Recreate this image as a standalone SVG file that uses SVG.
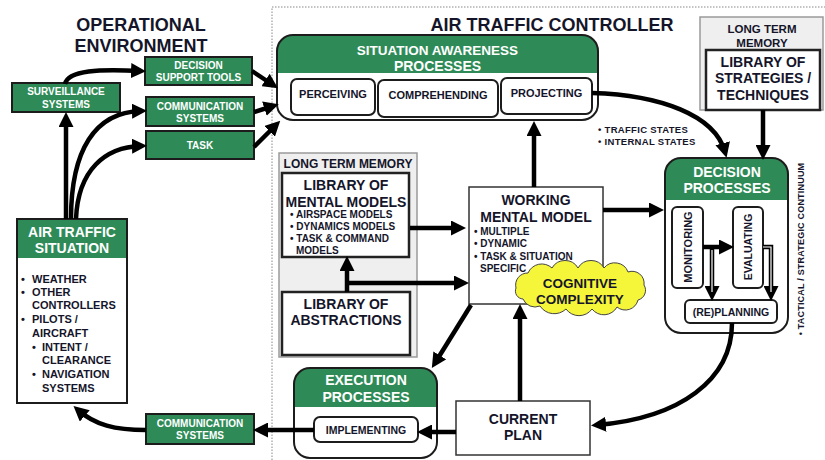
<svg xmlns="http://www.w3.org/2000/svg" width="825" height="460" viewBox="0 0 825 460">
<style>
text{font-family:"Liberation Sans",Arial,sans-serif;font-weight:bold;fill:#15152a}
.w{fill:#fff}
.m{text-anchor:middle}
.gbox{fill:#2e8b57;stroke:#1c1c1c;stroke-width:2}
.hdr{fill:#2e8b57}
.rbox{fill:#fff;stroke:#1c1c1c;stroke-width:2}
.sub{fill:#fff;stroke:#1c1c1c;stroke-width:2}
.ltm{fill:#efefef;stroke:#9a9a9a;stroke-width:1.5}
.lib{fill:#fff;stroke:#222;stroke-width:2.5}
.plain{fill:#fff;stroke:#333;stroke-width:1.5}
.c{fill:none;stroke:#000;stroke-width:4.5;marker-end:url(#ah)}
.inner{fill:none;stroke:#fff;stroke-width:1.2}
</style>
<defs>
<marker id="ah" markerUnits="userSpaceOnUse" markerWidth="15" markerHeight="15" refX="9" refY="7.5" orient="auto">
<path d="M0,0 L15,7.5 L0,15 z" fill="#000"/>
</marker>
</defs>
<rect width="825" height="460" fill="#fff"/>
<path d="M272,460 L272,7 L825,7" fill="none" stroke="#888" stroke-width="1" stroke-dasharray="1.5,1.5"/>

<g id="title-operational">
<text class="m" x="141" y="31" font-size="18">OPERATIONAL</text>
<text class="m" x="141" y="52" font-size="18">ENVIRONMENT</text>
</g>
<g id="title-atc">
<text class="m" x="552" y="31" font-size="18">AIR TRAFFIC CONTROLLER</text>
</g>

<g id="surveillance">
<rect class="gbox" x="12" y="83" width="108" height="29"/>
<text class="m w" x="66" y="95" font-size="10">SURVEILLANCE</text>
<text class="m w" x="66" y="108" font-size="10">SYSTEMS</text>
</g>
<g id="decision-support">
<rect class="gbox" x="145" y="57" width="107" height="28"/>
<text class="m w" x="198.5" y="69" font-size="10">DECISION</text>
<text class="m w" x="198.5" y="81" font-size="10">SUPPORT TOOLS</text>
</g>
<g id="communication-top">
<rect class="gbox" x="146" y="97" width="108" height="29"/>
<text class="m w" x="200" y="110" font-size="10">COMMUNICATION</text>
<text class="m w" x="200" y="122" font-size="10">SYSTEMS</text>
</g>
<g id="task">
<rect class="gbox" x="146" y="131" width="108" height="28"/>
<text class="m w" x="200" y="149" font-size="10">TASK</text>
</g>
<g id="communication-bottom">
<rect class="gbox" x="146" y="414" width="108" height="30"/>
<text class="m w" x="200" y="427" font-size="10">COMMUNICATION</text>
<text class="m w" x="200" y="439" font-size="10">SYSTEMS</text>
</g>

<g id="air-traffic-situation">
<rect x="17" y="219" width="110" height="184" fill="#fff" stroke="#1c1c1c" stroke-width="2"/>
<rect class="hdr" x="18" y="220" width="108" height="38"/>
<rect x="17" y="219" width="110" height="184" fill="none" stroke="#1c1c1c" stroke-width="2"/>
<text class="m w" x="72" y="237" font-size="14">AIR TRAFFIC</text>
<text class="m w" x="72" y="253" font-size="14">SITUATION</text>
<g font-size="11">
<text x="21" y="283" font-size="11">•</text><text x="32" y="283" font-size="11">WEATHER</text>
<text x="21" y="296" font-size="11">•</text><text x="32" y="296" font-size="11">OTHER</text>
<text x="32" y="309" font-size="11">CONTROLLERS</text>
<text x="21" y="323" font-size="11">•</text><text x="32" y="323" font-size="11">PILOTS /</text>
<text x="32" y="337" font-size="11">AIRCRAFT</text>
<text x="32" y="351" font-size="11">•</text><text x="42" y="351" font-size="11">INTENT /</text>
<text x="42" y="364" font-size="11">CLEARANCE</text>
<text x="32" y="378" font-size="11">•</text><text x="42" y="378" font-size="11">NAVIGATION</text>
<text x="42" y="392" font-size="11">SYSTEMS</text>
</g>
</g>

<g id="situation-awareness">
<rect x="277" y="35" width="321" height="85" rx="16" fill="#fff"/>
<path class="hdr" d="M277,73 L277,51 A16,16 0 0 1 293,35 L582,35 A16,16 0 0 1 598,51 L598,73 Z"/>
<rect x="277" y="35" width="321" height="85" rx="16" fill="none" stroke="#1c1c1c" stroke-width="2"/>
<text class="m w" x="437.5" y="55" font-size="13.5">SITUATION AWARENESS</text>
<text class="m w" x="437.5" y="71" font-size="14">PROCESSES</text>
</g>
<g id="perceiving">
<rect class="sub" x="291" y="79" width="84" height="36" rx="6"/>
<text class="m" x="333" y="98" font-size="11">PERCEIVING</text>
</g>
<g id="comprehending">
<rect class="sub" x="378" y="80" width="120" height="37" rx="6"/>
<text class="m" x="438" y="99" font-size="11">COMPREHENDING</text>
</g>
<g id="projecting">
<rect class="sub" x="501" y="78" width="91" height="36" rx="6"/>
<text class="m" x="546.5" y="97" font-size="11">PROJECTING</text>
</g>

<g id="long-term-memory-left">
<rect class="ltm" x="279" y="153" width="138" height="204"/>
<text class="m" x="348" y="168" font-size="12">LONG TERM MEMORY</text>
</g>
<g id="library-mental-models">
<rect class="lib" x="282" y="173" width="127" height="84"/>
<text class="m" x="346" y="190" font-size="14">LIBRARY OF</text>
<text class="m" x="346" y="207" font-size="14">MENTAL MODELS</text>
<text x="290" y="218" font-size="10">• AIRSPACE MODELS</text>
<text x="290" y="230" font-size="10">• DYNAMICS MODELS</text>
<text x="290" y="242" font-size="10">• TASK &amp; COMMAND</text>
<text x="296" y="254" font-size="10">MODELS</text>
</g>
<g id="library-abstractions">
<rect class="lib" x="282" y="292" width="128" height="63"/>
<text class="m" x="346" y="309" font-size="14">LIBRARY OF</text>
<text class="m" x="346" y="325" font-size="14">ABSTRACTIONS</text>
</g>

<g id="working-mental-model">
<rect class="plain" x="469" y="187" width="134" height="117"/>
<text class="m" x="536" y="205" font-size="14">WORKING</text>
<text class="m" x="536" y="222" font-size="14">MENTAL MODEL</text>
<text x="474" y="235" font-size="10">• MULTIPLE</text>
<text x="474" y="247" font-size="10">• DYNAMIC</text>
<text x="474" y="260" font-size="10">• TASK &amp; SITUATION</text>
<text x="480" y="272" font-size="10">SPECIFIC</text>
</g>

<g id="state-labels">
<text x="598" y="133" font-size="9.5" letter-spacing="0.3">• TRAFFIC STATES</text>
<text x="598" y="145" font-size="9.5" letter-spacing="0.3">• INTERNAL STATES</text>
</g>

<g id="long-term-memory-right">
<rect class="ltm" x="700" y="17" width="123" height="93"/>
<text class="m" x="762" y="33" font-size="11.5">LONG TERM</text>
<text class="m" x="762" y="47" font-size="11.5">MEMORY</text>
</g>
<g id="library-strategies">
<rect class="lib" x="706" y="50" width="114" height="60"/>
<text class="m" x="763" y="67" font-size="14">LIBRARY OF</text>
<text class="m" x="763" y="83" font-size="14">STRATEGIES /</text>
<text class="m" x="763" y="100" font-size="14">TECHNIQUES</text>
</g>

<g id="decision-processes">
<rect x="665" y="158" width="123" height="175" rx="16" fill="#fff"/>
<path class="hdr" d="M665,200 L665,174 A16,16 0 0 1 681,158 L772,158 A16,16 0 0 1 788,174 L788,200 Z"/>
<rect x="665" y="158" width="123" height="175" rx="16" fill="none" stroke="#1c1c1c" stroke-width="2"/>
<text class="m w" x="727" y="177" font-size="14">DECISION</text>
<text class="m w" x="727" y="193" font-size="14">PROCESSES</text>
</g>
<g id="monitoring">
<rect class="sub" x="672" y="207" width="31" height="81" rx="5"/>
<text class="m" transform="translate(692,247) rotate(-90)" font-size="11">MONITORING</text>
</g>
<g id="evaluating">
<rect class="sub" x="733" y="207" width="30" height="81" rx="5"/>
<text class="m" transform="translate(752,247) rotate(-90)" font-size="10.5">EVALUATING</text>
</g>
<g id="replanning">
<rect class="sub" x="685" y="300" width="92" height="23" rx="5"/>
<text class="m" x="731" y="316" font-size="10.5">(RE)PLANNING</text>
</g>
<g id="continuum-label">
<text class="m" transform="translate(804,249) rotate(-90)" font-size="9" letter-spacing="0.2">• TACTICAL / STRATEGIC CONTINUUM</text>
</g>

<g id="execution-processes">
<rect x="294" y="368" width="143" height="90" rx="16" fill="#fff"/>
<path class="hdr" d="M294,407 L294,384 A16,16 0 0 1 310,368 L421,368 A16,16 0 0 1 437,384 L437,407 Z"/>
<rect x="294" y="368" width="143" height="90" rx="16" fill="none" stroke="#1c1c1c" stroke-width="2"/>
<text class="m w" x="366" y="385" font-size="14">EXECUTION</text>
<text class="m w" x="366" y="402" font-size="14">PROCESSES</text>
</g>
<g id="implementing">
<rect class="sub" x="314" y="417" width="104" height="25" rx="6"/>
<text class="m" x="366" y="434" font-size="10.5">IMPLEMENTING</text>
</g>

<g id="current-plan">
<rect class="plain" x="456" y="401" width="134" height="54"/>
<text class="m" x="523" y="424" font-size="14">CURRENT</text>
<text class="m" x="523" y="440" font-size="14">PLAN</text>
</g>

<g id="connectors">
<path class="c" d="M65,84 C68,70 100,69 140,71"/>
<path class="c" d="M66,219 L66,118"/>
<path class="c" d="M71,219 C71,150 95,112 141,111"/>
<path class="c" d="M76,219 C78,170 105,147 141,146"/>
<path class="c" d="M252,71 L273,85"/>
<path class="c" d="M254,112 L273,106"/>
<path class="c" d="M254,147 L276,125"/>
<path class="c" d="M314,430 L259,430"/>
<path class="c" d="M146,430 C115,430 95,425 78,410"/>
<path class="c" d="M456,432 L423,432"/>
<path class="c" d="M520,401 L520,310"/>
<path class="c" d="M732,323 C732,380 680,418 597,425"/>
<path class="c" d="M534,187 L534,127"/>
<path class="c" d="M603,210 L658,210"/>
<path class="c" d="M471,305 L435,363"/>
<path class="c" d="M410,228 L460,228"/>
<path class="c" d="M347,292 L347,262"/>
<path class="c" d="M345,283 L463,283"/>
<path class="c" d="M592,93 C660,95 715,115 725,152"/>
<path class="c" d="M763,110 L763,154"/>
<path class="c" d="M703,247 L728,247"/>
<path class="c" d="M712,247 L712,295"/>
<path class="c" d="M763,247 L771,247 L771,295"/>
<path class="inner" d="M712,250 L712,292"/>
<path class="inner" d="M763,247 L771,247 L771,292"/>
</g>

<g id="cognitive-complexity">
<path d="M516,288 A12,12 0 0 1 528,273 A15,15 0 0 1 552,268 A15,15 0 0 1 578,268 A15,15 0 0 1 604,268 A14,14 0 0 1 628,272 A12,12 0 0 1 644,285 A10,10 0 0 1 638,300 A13,13 0 0 1 617,307 A15,15 0 0 1 592,309 A16,16 0 0 1 566,309 A17,17 0 0 1 540,306 A13,13 0 0 1 523,299 A8,8 0 0 1 516,288 Z" fill="#f5f53a" stroke="#444" stroke-width="1"/>
<text class="m" x="580" y="288" font-size="13.5">COGNITIVE</text>
<text class="m" x="580" y="304" font-size="13.5">COMPLEXITY</text>
</g>
</svg>
